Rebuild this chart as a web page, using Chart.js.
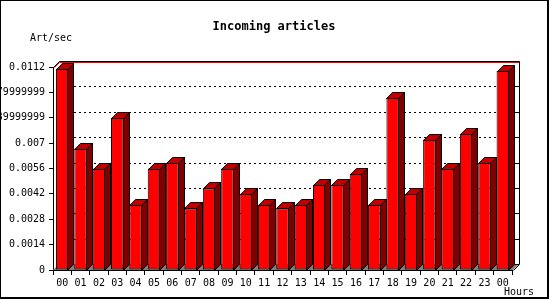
<!DOCTYPE html>
<html>
<head>
<meta charset="utf-8">
<script src="https://cdn.jsdelivr.net/npm/chart.js"></script>
<style>
  html, body { margin: 0; padding: 0; background: #fff; }
  canvas { display: block; }
</style>
</head>
<body>
<canvas id="myChart" width="550" height="300"></canvas>
<script>
// 데이터
var hours = ['00', '01', '02', '03', '04', '05', '06', '07', '08', '09', '10', '11',
             '12', '13', '14', '15', '16', '17', '18', '19', '20', '21', '22', '23', '00'];
var artPerSec = [0.0111, 0.0067, 0.0056, 0.0084, 0.0036, 0.0056, 0.0059, 0.0034, 0.0045, 0.0056,
                 0.0042, 0.0036, 0.0034, 0.0036, 0.0047, 0.0047, 0.0053, 0.0036, 0.0095, 0.0042,
                 0.0072, 0.0056, 0.0075, 0.0059, 0.011];
var yTicks = [0, 0.0014, 0.0028, 0.0042, 0.0056, 0.007, 0.0084, 0.0098, 0.0112];
var yTickLabels = ['0', '0.0014', '0.0028', '0.0042', '0.0056', '0.007',
                   '0.00839999999', '0.00979999999', '0.0112'];

var DEPTH = 6;
var smallFont = '10px "DejaVu Sans Mono"';

// 3D 효과 (바닥, 뒷벽, 격자, 옆면)
var box3d = {
    id: 'box3d',
    beforeDatasetsDraw: function(chart) {
        var ctx = chart.ctx, a = chart.chartArea, y = chart.scales.y, d = DEPTH;
        ctx.save();
        // floor
        ctx.fillStyle = '#808080';
        ctx.beginPath();
        ctx.moveTo(a.left, a.bottom);
        ctx.lineTo(a.left + d, a.bottom - d);
        ctx.lineTo(a.right + d + 1, a.bottom - d);
        ctx.lineTo(a.right + 1, a.bottom);
        ctx.closePath();
        ctx.fill();
        // dotted grid on back wall
        ctx.strokeStyle = '#000';
        ctx.lineWidth = 1;
        ctx.setLineDash([2, 3]);
        yTicks.forEach(function(v, i) {
            if (i === 0 || i === yTicks.length - 1) return;
            var py = Math.round(y.getPixelForValue(v)) - d + 0.5;
            ctx.beginPath();
            ctx.moveTo(a.left + d, py);
            ctx.lineTo(a.right + d + 1, py);
            ctx.stroke();
        });
        ctx.setLineDash([]);
        // right wall ticks
        yTicks.forEach(function(v) {
            var py = Math.round(y.getPixelForValue(v)) - d + 0.5;
            ctx.beginPath();
            ctx.moveTo(a.right + d - 3, py);
            ctx.lineTo(a.right + d + 1, py);
            ctx.stroke();
        });
        // top edge: black + red
        var top = Math.round(a.top);
        ctx.strokeStyle = '#f00';
        ctx.beginPath();
        ctx.moveTo(a.left + 1.5, top + 0.5);
        ctx.lineTo(a.left + d + 0.5, top - d + 1.5);
        ctx.lineTo(a.right + d + 1, top - d + 1.5);
        ctx.stroke();
        ctx.strokeStyle = '#000';
        ctx.beginPath();
        ctx.moveTo(a.left + 0.5, top + 0.5);
        ctx.lineTo(a.left + d + 0.5, top - d + 0.5);
        ctx.lineTo(a.right + d + 1.5, top - d + 0.5);
        ctx.lineTo(a.right + d + 1.5, a.bottom - d + 0.5);
        ctx.lineTo(a.right + 1.5, a.bottom + 0.5);
        ctx.stroke();
        ctx.restore();
    },
    afterDatasetsDraw: function(chart) {
        var ctx = chart.ctx, d = DEPTH;
        var meta = chart.getDatasetMeta(0);
        ctx.save();
        ctx.strokeStyle = '#000';
        ctx.lineWidth = 1;
        meta.data.forEach(function(bar) {
            var p = bar.getProps(['x', 'y', 'base', 'width'], true);
            var l = Math.round(p.x - p.width / 2) + 0.5;
            var r = Math.round(p.x + p.width / 2) - 0.5;
            var t = Math.round(p.y) + 0.5;
            var b = Math.round(p.base) + 0.5;
            // top
            ctx.fillStyle = '#c00000';
            ctx.beginPath();
            ctx.moveTo(l, t);
            ctx.lineTo(l + d, t - d);
            ctx.lineTo(r + d, t - d);
            ctx.lineTo(r, t);
            ctx.closePath();
            ctx.fill();
            ctx.stroke();
            // side
            ctx.fillStyle = '#800000';
            ctx.beginPath();
            ctx.moveTo(r, t);
            ctx.lineTo(r + d, t - d);
            ctx.lineTo(r + d, b - d);
            ctx.lineTo(r, b);
            ctx.closePath();
            ctx.fill();
            ctx.stroke();
        });
        ctx.restore();
    },
    afterDraw: function(chart) {
        var ctx = chart.ctx;
        ctx.save();
        ctx.fillStyle = '#000';
        ctx.textBaseline = 'middle';
        ctx.textAlign = 'center';
        ctx.font = 'bold 12px "DejaVu Sans Mono"';
        ctx.fillText('Incoming articles', 274, 27);
        ctx.font = smallFont;
        ctx.textAlign = 'left';
        ctx.fillText('Art/sec', 30, 38);
        ctx.fillText('Hours', 504, 292);
        // 테두리
        ctx.fillRect(0, 0, 549, 1);
        ctx.fillRect(0, 0, 1, 299);
        ctx.fillRect(547, 0, 2, 299);
        ctx.fillRect(0, 297, 549, 2);
        ctx.restore();
    }
};

var ctx = document.getElementById('myChart').getContext('2d');
var chart = new Chart(ctx, {
    type: 'bar',
    data: {
        labels: hours,
        datasets: [{
            data: artPerSec,
            backgroundColor: '#ff0000',
            borderColor: '#000',
            borderWidth: 1,
            borderSkipped: false,
            barPercentage: 0.68,
            categoryPercentage: 1
        }]
    },
    options: {
        responsive: false,
        animation: false,
        devicePixelRatio: 1,
        layout: { padding: { left: 0, top: 67, right: 38, bottom: 0 } },
        plugins: {
            legend: { display: false },
            title: { display: false },
            tooltip: { enabled: false }
        },
        scales: {
            x: {
                afterFit: function(s) { s.height = 30; },
                grid: { offset: true, drawOnChartArea: false, drawTicks: true, tickLength: 5, color: '#000' },
                border: { display: true, color: '#000' },
                ticks: { color: '#000', font: { family: 'DejaVu Sans Mono', size: 10 },
                         autoSkip: false, maxRotation: 0, padding: 2 }
            },
            y: {
                min: 0,
                max: 0.0112,
                afterFit: function(s) { s.width = 53; },
                afterBuildTicks: function(s) {
                    s.ticks = yTicks.map(function(v) { return { value: v }; });
                },
                grid: { drawOnChartArea: false, drawTicks: true, tickLength: 4, color: '#000' },
                border: { display: true, color: '#000' },
                ticks: {
                    color: '#000',
                    font: { family: 'DejaVu Sans Mono', size: 10 },
                    padding: 4,
                    callback: function(v, i) { return yTickLabels[i]; }
                }
            }
        }
    },
    plugins: [box3d]
});
</script>
</body>
</html>
